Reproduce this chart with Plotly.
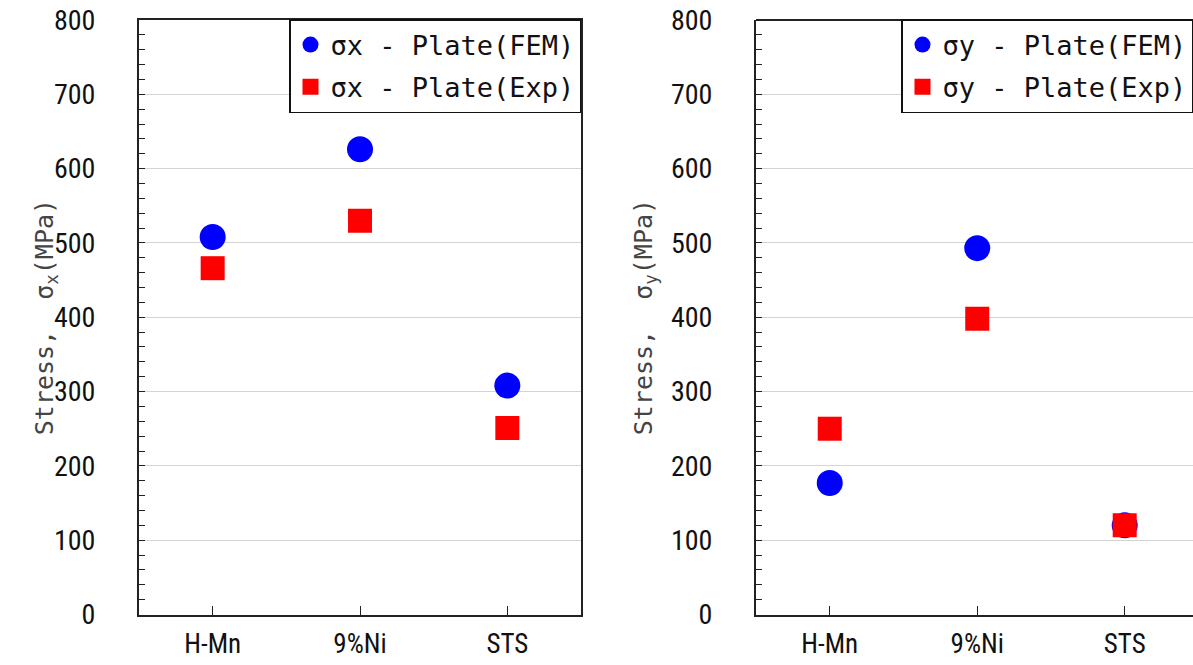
import plotly.graph_objects as go

categories = ["H-Mn", "9%Ni", "STS"]
sx_fem = [508, 626, 308]
sx_exp = [466, 530, 251]
sy_fem = [177, 493, 120]
sy_exp = [250, 398, 120]
y_ticks = [0, 100, 200, 300, 400, 500, 600, 700, 800]

W, H = 1193, 665
def px(x):
    return x / W
def py(y):
    return 1 - y / H

fig = go.Figure()

blue = "#0000FF"
red = "#FF0000"
circ = dict(symbol="circle", size=26, color=blue)
sq = dict(symbol="square", size=24, color=red)

fig.add_trace(go.Scatter(x=categories, y=sx_fem, mode="markers", marker=circ,
                         name="σx - Plate(FEM)", xaxis="x", yaxis="y",
                         legend="legend", legendgroup="a"))
fig.add_trace(go.Scatter(x=categories, y=sx_exp, mode="markers", marker=sq,
                         name="σx - Plate(Exp)", xaxis="x", yaxis="y",
                         legend="legend", legendgroup="b"))
fig.add_trace(go.Scatter(x=categories, y=sy_fem, mode="markers", marker=circ,
                         name="σy - Plate(FEM)", xaxis="x2", yaxis="y2",
                         legend="legend2", legendgroup="c"))
fig.add_trace(go.Scatter(x=categories, y=sy_exp, mode="markers", marker=sq,
                         name="σy - Plate(Exp)", xaxis="x2", yaxis="y2",
                         legend="legend2", legendgroup="d"))

tickfont = dict(family="Liberation Sans Narrow, Roboto Condensed, Liberation Sans, Arial", size=28, color="#111")
xtickfont = dict(family="Liberation Sans Narrow, Roboto Condensed, Liberation Sans, Arial", size=27, color="#111")
monofont = dict(family="DejaVu Sans Mono, Liberation Mono, monospace", size=27, color="#111")

def xaxis(domain, rng, mirror):
    return dict(domain=domain, range=rng, type="category", categoryorder="array",
                categoryarray=categories, automargin=False,
                showline=True, linecolor="#222", linewidth=2, mirror=mirror,
                ticks="inside", ticklen=9, tickcolor="#222", tickwidth=1,
                showgrid=False, zeroline=False, tickfont=xtickfont,
                ticklabelstandoff=4)

def yaxis(anchor, mirror):
    return dict(domain=[py(614.5), py(20)], range=[0, 800], anchor=anchor,
                automargin=False,
                tickvals=y_ticks, showline=True, linecolor="#222", linewidth=2,
                mirror=mirror, ticks="inside", ticklen=6, tickcolor="#222",
                minor=dict(dtick=20, ticks="inside", ticklen=6, tickcolor="#222", showgrid=False),
                showgrid=True, gridcolor="#d4d4d4", gridwidth=1, zeroline=False,
                tickfont=tickfont, ticklabelstandoff=36)

fig.update_layout(
    width=W, height=H,
    margin=dict(l=0, r=0, t=0, b=0, autoexpand=False),
    paper_bgcolor="white", plot_bgcolor="white",
    xaxis=dict(**xaxis([px(139), px(581)], [-0.5, 2.5], True), anchor="y"),
    yaxis=yaxis("x", True),
    xaxis2=dict(**xaxis([px(756), 1.0], [-0.5, 2.463], False), anchor="y2"),
    yaxis2=yaxis("x2", False),
    legend=dict(x=px(581), y=py(19), xanchor="right", yanchor="top",
                bgcolor="white", bordercolor="#111", borderwidth=1.5,
                font=monofont, tracegroupgap=4, itemsizing="trace"),
    legend2=dict(x=px(901), y=py(19), xanchor="left", yanchor="top",
                 bgcolor="white", bordercolor="#111", borderwidth=1.5,
                 font=monofont, tracegroupgap=4, itemsizing="trace"),
    showlegend=True,
)

# top border of the right panel (right edge is cut off by the page)
fig.add_shape(type="line", xref="x2 domain", yref="y2 domain", x0=0, x1=1, y0=1, y1=1,
              line=dict(color="#222", width=2))

fig.add_annotation(x=px(28), y=0.5 * (py(614.5) + py(20)), xref="paper", yref="paper",
                   text="Stress,  σ<sub>x</sub>(MPa)", textangle=-90, showarrow=False,
                   font=dict(family="DejaVu Sans Mono, monospace", size=25, color="#444"))
fig.add_annotation(x=px(645), y=0.5 * (py(614.5) + py(20)), xref="paper", yref="paper",
                   text="Stress,  σ<sub>y</sub>(MPa)", textangle=-90, showarrow=False,
                   font=dict(family="DejaVu Sans Mono, monospace", size=25, color="#444"))

fig.write_html("out.html")
